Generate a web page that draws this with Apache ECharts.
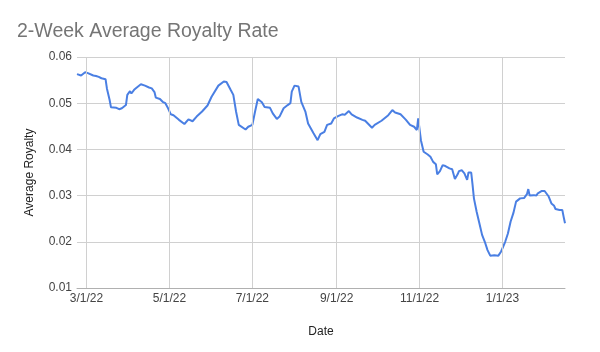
<!DOCTYPE html>
<html>
<head>
<meta charset="utf-8">
<script src="https://cdn.jsdelivr.net/npm/echarts@6/dist/echarts.min.js"></script>
<style>
  html, body { margin: 0; padding: 0; background: #fff; }
  #chart { width: 600px; height: 352px; }
</style>
</head>
<body>
<div id="chart"></div>
<script>
// dates of the 2-week average samples
const dates = [
  '2022-02-22', '2022-02-25', '2022-02-28', '2022-03-02', '2022-03-06', '2022-03-08', '2022-03-10',
  '2022-03-11', '2022-03-12', '2022-03-15', '2022-03-16', '2022-03-18', '2022-03-19', '2022-03-23',
  '2022-03-25', '2022-03-27', '2022-03-28', '2022-03-30', '2022-03-31', '2022-04-02', '2022-04-03',
  '2022-04-05', '2022-04-07', '2022-04-10', '2022-04-13', '2022-04-16', '2022-04-18', '2022-04-20',
  '2022-04-21', '2022-04-24', '2022-04-26', '2022-04-28', '2022-04-30', '2022-05-02', '2022-05-04',
  '2022-05-08', '2022-05-12', '2022-05-15', '2022-05-18', '2022-05-21', '2022-05-25', '2022-05-29',
  '2022-06-01', '2022-06-06', '2022-06-10', '2022-06-12', '2022-06-15', '2022-06-17', '2022-06-19',
  '2022-06-21', '2022-06-26', '2022-06-28', '2022-07-01', '2022-07-03', '2022-07-05', '2022-07-08',
  '2022-07-10', '2022-07-14', '2022-07-16', '2022-07-19', '2022-07-21', '2022-07-24', '2022-07-27',
  '2022-07-29', '2022-07-30', '2022-08-01', '2022-08-04', '2022-08-06', '2022-08-09', '2022-08-11',
  '2022-08-15', '2022-08-18', '2022-08-20', '2022-08-23', '2022-08-25', '2022-08-28', '2022-08-30',
  '2022-09-02', '2022-09-05', '2022-09-07', '2022-09-10', '2022-09-12', '2022-09-16', '2022-09-20',
  '2022-09-22', '2022-09-27', '2022-09-29', '2022-10-04', '2022-10-09', '2022-10-12', '2022-10-14',
  '2022-10-18', '2022-10-22', '2022-10-25', '2022-10-28', '2022-10-30', '2022-10-31', '2022-11-02',
  '2022-11-04', '2022-11-07', '2022-11-09', '2022-11-11', '2022-11-13', '2022-11-14', '2022-11-16',
  '2022-11-18', '2022-11-20', '2022-11-23', '2022-11-25', '2022-11-27', '2022-11-29', '2022-11-30',
  '2022-12-02', '2022-12-04', '2022-12-05', '2022-12-06', '2022-12-07', '2022-12-09', '2022-12-10',
  '2022-12-11', '2022-12-13', '2022-12-15', '2022-12-17', '2022-12-19', '2022-12-21', '2022-12-23',
  '2022-12-26', '2022-12-29', '2022-12-31', '2023-01-03', '2023-01-05', '2023-01-07', '2023-01-09',
  '2023-01-11', '2023-01-14', '2023-01-17', '2023-01-19', '2023-01-20', '2023-01-21', '2023-01-24',
  '2023-01-26', '2023-01-27', '2023-01-30', '2023-02-01', '2023-02-04', '2023-02-06', '2023-02-08',
  '2023-02-09', '2023-02-12', '2023-02-14', '2023-02-15', '2023-02-16'
];

const royalty = [
  0.0563, 0.0560, 0.0567, 0.0565, 0.0560, 0.0559, 0.0557,
  0.0561, 0.0554, 0.0552, 0.0532, 0.0507, 0.0491, 0.0490,
  0.0487, 0.0489, 0.0485, 0.0496, 0.0518, 0.0526, 0.0521,
  0.0529, 0.0534, 0.0541, 0.0538, 0.0534, 0.0532, 0.0524,
  0.0512, 0.0509, 0.0503, 0.0500, 0.0489, 0.0476, 0.0474,
  0.0464, 0.0455, 0.0465, 0.0461, 0.0471, 0.0482, 0.0495,
  0.0514, 0.0538, 0.0547, 0.0546, 0.0529, 0.0518, 0.0482,
  0.0453, 0.0443, 0.0449, 0.0453, 0.0482, 0.0509, 0.0502,
  0.0492, 0.0490, 0.0478, 0.0466, 0.0471, 0.0489, 0.0496,
  0.0500, 0.0525, 0.0538, 0.0536, 0.0503, 0.0482, 0.0456,
  0.0435, 0.0420, 0.0433, 0.0438, 0.0453, 0.0456, 0.0467,
  0.0472, 0.0476, 0.0475, 0.0483, 0.0476, 0.0469, 0.0464,
  0.0462, 0.0447, 0.0453, 0.0462, 0.0474, 0.0485, 0.0480,
  0.0476, 0.0464, 0.0453, 0.0449, 0.0442, 0.0467, 0.0420,
  0.0395, 0.0389, 0.0384, 0.0373, 0.0368, 0.0346, 0.0353,
  0.0366, 0.0364, 0.0359, 0.0357, 0.0336, 0.0346, 0.0353,
  0.0355, 0.0348, 0.0345, 0.0334, 0.0350, 0.0350, 0.0323,
  0.0294, 0.0265, 0.0240, 0.0215, 0.0200, 0.0182, 0.0170,
  0.0171, 0.0170, 0.0179, 0.0200, 0.0218, 0.0244, 0.0262,
  0.0287, 0.0294, 0.0295, 0.0303, 0.0314, 0.0300, 0.0301,
  0.0300, 0.0305, 0.0310, 0.0310, 0.0298, 0.0283, 0.0278,
  0.0271, 0.0269, 0.0269, 0.0254, 0.0240
];

// x tick dates
const tickDates = ['2022-03-01', '2022-05-01', '2022-07-01', '2022-09-01', '2022-11-01', '2023-01-01'];
const yTicks = [0.01, 0.02, 0.03, 0.04, 0.05, 0.06];

const toTime = (s) => {
  const p = s.split('-');
  return Date.UTC(+p[0], +p[1] - 1, +p[2]);
};
const tickTimes = tickDates.map(toTime);

const chart = echarts.init(document.getElementById('chart'));
chart.setOption({
  animation: false,
  backgroundColor: '#ffffff',
  textStyle: { fontFamily: 'Liberation Sans, Arial, sans-serif' },
  title: {
    text: '2-Week Average Royalty Rate',
    left: 12,
    top: 17,
    textStyle: { fontSize: 19.5, fontWeight: 'normal', color: '#757575' }
  },
  grid: { left: 77, right: 35, top: 57, bottom: 64 },
  xAxis: {
    type: 'value',
    min: toTime(dates[0]),
    max: toTime(dates[dates.length - 1]),
    name: 'Date',
    nameLocation: 'middle',
    nameGap: 38,
    nameTextStyle: { fontSize: 12, color: '#222' },
    axisLine: { lineStyle: { color: '#b0b0b0' } },
    axisTick: { show: false },
    splitLine: { show: false },
    axisLabel: {
      customValues: tickTimes,
      fontSize: 12,
      color: '#444',
      margin: 5,
      formatter: (v) => {
        const d = new Date(v);
        return (d.getUTCMonth() + 1) + '/' + d.getUTCDate() + '/' + String(d.getUTCFullYear()).slice(2);
      }
    }
  },
  yAxis: {
    type: 'value',
    min: yTicks[0],
    max: yTicks[yTicks.length - 1],
    interval: 0.01,
    name: 'Average Royalty',
    nameLocation: 'middle',
    nameGap: 41,
    nameTextStyle: { fontSize: 12, color: '#222' },
    axisLine: { show: false },
    axisTick: { show: false },
    splitLine: { lineStyle: { color: '#d0d0d0' } },
    axisLabel: {
      fontSize: 12,
      color: '#444',
      margin: 5,
      formatter: (v) => v.toFixed(2)
    }
  },
  series: [{
    // vertical gridlines at the labelled dates
    type: 'line',
    data: [],
    z: 1,
    silent: true,
    markLine: {
      silent: true,
      symbol: 'none',
      label: { show: false },
      lineStyle: { color: '#d0d0d0', type: 'solid', width: 1 },
      data: tickTimes.map(t => ({ xAxis: t }))
    }
  }, {
    name: 'Average Royalty',
    type: 'line',
    z: 3,
    showSymbol: false,
    data: dates.map((d, i) => [toTime(d), royalty[i]]),
    lineStyle: { color: '#4a7fe3', width: 2 },
    itemStyle: { color: '#4a7fe3' }
  }]
});
</script>
</body>
</html>
